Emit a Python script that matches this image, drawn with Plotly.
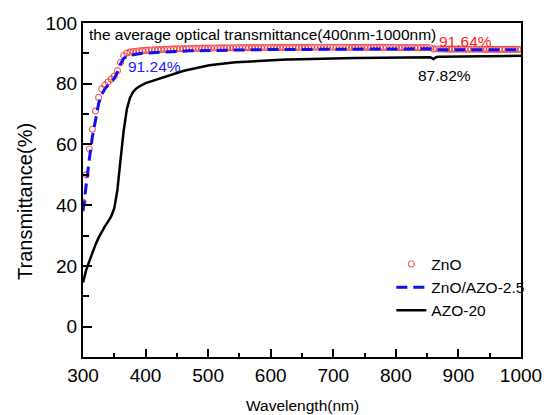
import plotly.graph_objects as go

# Wavelength grid (nm), 5 nm sampling
wavelength = list(range(300, 1001, 5))

# ZnO transmittance (%)
t_zno = [
    41.0, 50.0, 58.5, 65.0, 71.0, 75.5, 78.3, 79.6, 80.6, 81.5,
    82.5, 84.3, 87.0, 89.3, 90.1, 90.4, 90.6, 90.7, 90.8, 90.9,
    91.0, 91.05, 91.1, 91.15, 91.2, 91.25, 91.3, 91.35, 91.4, 91.45,
    91.5, 91.52, 91.55, 91.57, 91.6, 91.62, 91.65, 91.67, 91.7, 91.72,
    91.74, 91.75, 91.77, 91.78, 91.8, 91.81, 91.82, 91.83, 91.84, 91.85,
    91.86, 91.87, 91.88, 91.89, 91.9, 91.9, 91.91, 91.92, 91.93, 91.93,
    91.94, 91.95, 91.95, 91.96, 91.96, 91.97, 91.97, 91.98, 91.98, 91.99,
    92.0, 92.0, 92.0, 92.01, 92.01, 92.02, 92.02, 92.02, 92.02, 92.02,
    92.02, 92.02, 92.02, 92.01, 92.01, 92.0, 92.0, 92.0, 91.99, 91.99,
    91.98, 91.98, 91.97, 91.97, 91.96, 91.96, 91.95, 91.95, 91.94, 91.94,
    91.93, 91.92, 91.92, 91.91, 91.9, 91.9, 91.89, 91.88, 91.88, 91.87,
    91.86, 91.85, 91.45, 91.44, 91.43, 91.42, 91.41, 91.4, 91.4, 91.39,
    91.38, 91.38, 91.37, 91.36, 91.36, 91.35, 91.35, 91.34, 91.34, 91.33,
    91.33, 91.32, 91.32, 91.31, 91.31, 91.3, 91.3, 91.3, 91.29, 91.29,
    91.28,
]

# ZnO/AZO-2.5 transmittance (%)
t_zno_azo = [
    38.0, 47.0, 55.0, 62.5, 68.5, 73.5, 76.5, 78.3, 79.5, 80.5,
    81.8, 83.8, 86.5, 88.3, 89.0, 89.4, 89.6, 89.75, 89.9, 90.0,
    90.1, 90.17, 90.24, 90.3, 90.36, 90.42, 90.48, 90.54, 90.6, 90.65,
    90.7, 90.73, 90.76, 90.79, 90.82, 90.85, 90.88, 90.91, 90.94, 90.97,
    91.0, 91.02, 91.04, 91.06, 91.08, 91.1, 91.12, 91.13, 91.14, 91.15,
    91.16, 91.17, 91.18, 91.19, 91.2, 91.21, 91.22, 91.23, 91.24, 91.25,
    91.26, 91.27, 91.28, 91.29, 91.3, 91.31, 91.32, 91.33, 91.34, 91.35,
    91.36, 91.37, 91.38, 91.39, 91.4, 91.41, 91.42, 91.43, 91.44, 91.45,
    91.46, 91.46, 91.47, 91.47, 91.48, 91.48, 91.49, 91.49, 91.5, 91.5,
    91.5, 91.5, 91.5, 91.5, 91.5, 91.5, 91.5, 91.5, 91.5, 91.5,
    91.5, 91.5, 91.5, 91.5, 91.5, 91.5, 91.5, 91.5, 91.5, 91.5,
    91.5, 91.5, 91.15, 91.15, 91.15, 91.15, 91.15, 91.15, 91.15, 91.15,
    91.15, 91.15, 91.15, 91.15, 91.15, 91.15, 91.15, 91.15, 91.15, 91.15,
    91.15, 91.15, 91.15, 91.15, 91.15, 91.15, 91.15, 91.15, 91.15, 91.15,
    91.15,
]

# AZO-20 transmittance (%)
t_azo = [
    14.5, 18.5, 21.5, 24.5, 27.0, 29.3, 31.3, 33.0, 34.6, 36.3,
    39.0, 45.0, 55.0, 64.5, 71.5, 75.3, 77.3, 78.4, 79.1, 79.7,
    80.2, 80.55, 80.9, 81.2, 81.5, 81.85, 82.2, 82.55, 82.9, 83.25,
    83.6, 83.9, 84.2, 84.45, 84.7, 84.95, 85.2, 85.4, 85.6, 85.8,
    86.0, 86.15, 86.3, 86.45, 86.6, 86.7, 86.8, 86.9, 87.0, 87.08,
    87.15, 87.23, 87.3, 87.38, 87.45, 87.52, 87.58, 87.64, 87.7, 87.75,
    87.8, 87.84, 87.88, 87.92, 87.95, 87.98, 88.01, 88.04, 88.07, 88.1,
    88.12, 88.14, 88.16, 88.18, 88.2, 88.22, 88.24, 88.26, 88.28, 88.3,
    88.32, 88.34, 88.36, 88.38, 88.4, 88.42, 88.44, 88.46, 88.48, 88.5,
    88.51, 88.52, 88.53, 88.54, 88.55, 88.56, 88.57, 88.58, 88.59, 88.6,
    88.61, 88.62, 88.63, 88.64, 88.65, 88.66, 88.67, 88.68, 88.69, 88.7,
    88.71, 88.72, 88.1, 88.8, 88.85, 88.88, 88.9, 88.92, 88.94, 88.96,
    88.98, 89.0, 89.02, 89.03, 89.04, 89.05, 89.06, 89.07, 89.08, 89.09,
    89.1, 89.11, 89.12, 89.13, 89.14, 89.15, 89.16, 89.17, 89.18, 89.19,
    89.2,
]

# Average transmittance over 400-1000 nm
avg_labels = {"ZnO": "91.64%", "ZnO/AZO-2.5": "91.24%", "AZO-20": "87.82%"}

FONT = "Liberation Sans, Arial, sans-serif"

fig = go.Figure()
fig.add_trace(go.Scatter(
    x=wavelength, y=t_zno, name="ZnO", mode="markers",
    marker=dict(symbol="circle-open", size=6, color="rgba(235,45,45,0.75)",
                line=dict(width=1.2)),
))
fig.add_trace(go.Scatter(
    x=wavelength, y=t_zno_azo, name="ZnO/AZO-2.5", mode="lines",
    line=dict(color="#1010f0", width=3, dash="11px,6px"),
))
fig.add_trace(go.Scatter(
    x=wavelength, y=t_azo, name="AZO-20", mode="lines",
    line=dict(color="black", width=2.5),
))

axis_common = dict(
    showline=True, linecolor="black", linewidth=2, mirror=True,
    ticks="inside", tickwidth=2, tickcolor="black",
    showgrid=False, zeroline=False,
    tickfont=dict(family=FONT, size=19, color="black"),
)
fig.update_xaxes(range=[300, 1000], dtick=100, tick0=300, ticklen=8,
                 minor=dict(ticks="inside", dtick=50, ticklen=4,
                            tickwidth=2, tickcolor="black", showgrid=False),
                 **axis_common)
fig.update_yaxes(range=[-10, 100], dtick=20, tick0=0, ticklen=9,
                 minor=dict(ticks="inside", dtick=10, ticklen=6,
                            tickwidth=2, tickcolor="black", showgrid=False),
                 **axis_common)

annotations = [
    dict(x=0.009, y=0.965, xanchor="left", yanchor="middle",
         text="the average optical transmittance(400nm-1000nm)",
         font=dict(size=15.5, color="black")),
    dict(x=0.809, y=0.946, xanchor="left", yanchor="middle",
         text=avg_labels["ZnO"], font=dict(size=15.5, color="#ff2020")),
    dict(x=0.098, y=0.869, xanchor="left", yanchor="middle",
         text=avg_labels["ZnO/AZO-2.5"], font=dict(size=15.5, color="#2020ff")),
    dict(x=0.76, y=0.844, xanchor="left", yanchor="middle",
         text=avg_labels["AZO-20"], font=dict(size=15.5, color="black")),
    dict(x=0.5, y=-0.144, xanchor="center", yanchor="middle",
         text="Wavelength(nm)", font=dict(size=15.5, color="black")),
    dict(x=-0.134, y=0.465, xanchor="center", yanchor="middle",
         text="Transmittance(%)", textangle=-90,
         font=dict(size=20, color="black")),
]
for a in annotations:
    a.update(xref="paper", yref="paper", showarrow=False)
    a["font"]["family"] = FONT

fig.update_layout(
    width=554, height=415,
    margin=dict(l=83, r=24, t=23, b=58),
    paper_bgcolor="white", plot_bgcolor="white",
    font=dict(family=FONT, color="black"),
    annotations=annotations,
    legend=dict(x=0.704, y=0.328, xanchor="left", yanchor="top",
                bgcolor="rgba(0,0,0,0)", borderwidth=0,
                font=dict(family=FONT, size=15.5, color="black"),
                tracegroupgap=0, itemwidth=30),
)

fig.write_html("out.html")
